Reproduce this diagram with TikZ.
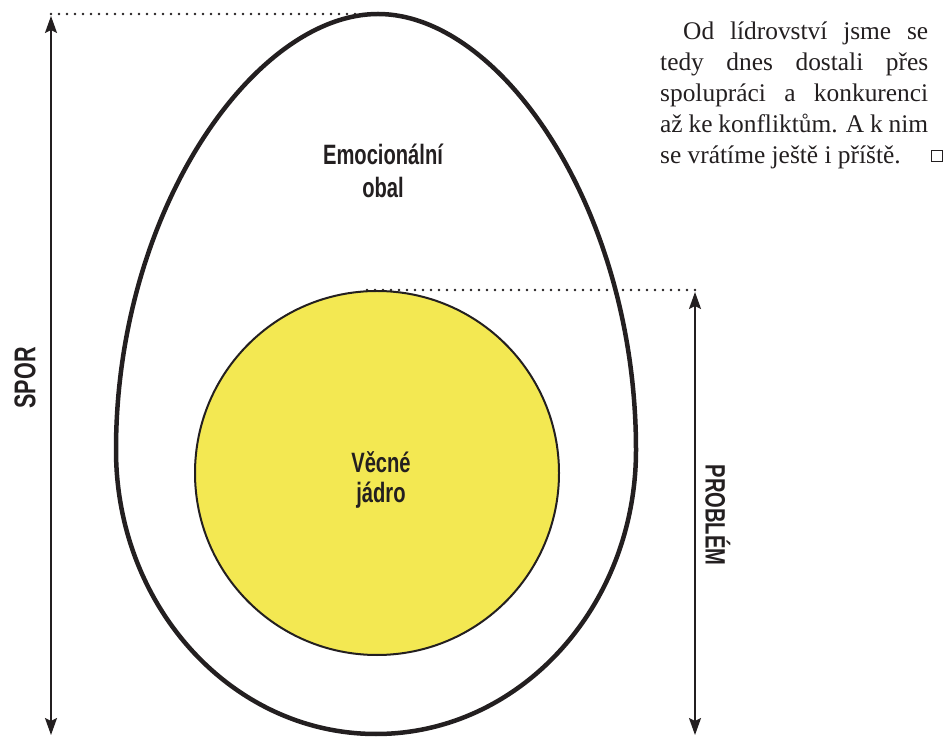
\documentclass[tikz,border=0pt]{standalone}
\usepackage{fontspec}
\setmainfont{Liberation Serif}
\newfontfamily\condensed[FakeStretch=0.72]{Liberation Sans}
\usetikzlibrary{arrows.meta}
\usetikzlibrary{positioning}
\definecolor{yolk}{RGB}{243,232,82}
\definecolor{ink}{RGB}{35,31,32}
\tikzset{
  eggtext/.style={font=\condensed\bfseries\fontsize{28}{33}\selectfont, text=ink, align=center, inner sep=0pt},
  guide/.style={ink, line width=2.6pt, line cap=round, dash pattern=on 0pt off 8pt},
  measure/.style={ink, line width=2pt, {Stealth[length=17pt,width=12pt,inset=3pt]}-{Stealth[length=17pt,width=12pt,inset=3pt]}},
  noteline/.style={font=\fontsize{25.4}{31}\selectfont, text=ink, inner sep=0pt, anchor=base west}
}

\begin{document}
\begin{tikzpicture}[x=1pt, y=1pt]
  \useasboundingbox (0,0) rectangle (947,736);

  % egg white and yolk
  \draw[ink, line width=4.5pt] (116,286)
    .. controls (116,526) and (255,722) .. (378,722)
    .. controls (501,722) and (636,526) .. (636,286)
    arc[start angle=0, end angle=-180, x radius=260, y radius=284] -- cycle;
  \node[circle, draw=ink, fill=yolk, line width=2pt, minimum size=364pt, inner sep=0pt] (yolk) at (377,263) {};

  \node[eggtext] (white) at (383,565) {Emocionální\\obal};
  \node[eggtext, font=\condensed\bfseries\fontsize{28}{30}\selectfont] (core) at (381,256) {Věcné\\jádro};

  \coordinate (eggtop) at (378,722);
  \coordinate (sporstart) at (51,722);
  \coordinate (sportop) at (51,720);
  \coordinate (sporbot) at (51,1);
  \coordinate (probstart) at (367,446);
  \coordinate (probend) at (697,446);
  \coordinate (probtop) at (695,444);
  \coordinate (probbot) at (695,1);

  \draw[guide] (sporstart) -- (eggtop);
  \draw[guide] (probstart) -- (probend);
  \draw[measure] (sporbot) -- (sportop);
  \draw[measure] (probbot) -- (probtop);

  \node[eggtext, rotate=90, font=\condensed\bfseries\fontsize{30}{33}\selectfont] (spor) at (25,358) {SPOR};
  \node[eggtext, rotate=-90] (problem) at (718,221) {PROBLÉM};

  % closing paragraph
  \foreach \txt [count=\i] in {{\hspace*{23pt}Od lídrovství jsme se}, {tedy dnes dostali přes},
      {spolupráci a konkurenci}, {až ke konfliktům. A k nim}}
    \node[noteline] (line\i) at (660,727-31*\i) {\makebox[268pt][s]{\txt}};
  \node[noteline] (line5) at (660,572) {se vrátíme ještě i příště.};
  \node[draw=ink, line width=1.4pt, minimum size=11pt, inner sep=0pt] (endmark) at (937,580) {};
\end{tikzpicture}
\end{document}
